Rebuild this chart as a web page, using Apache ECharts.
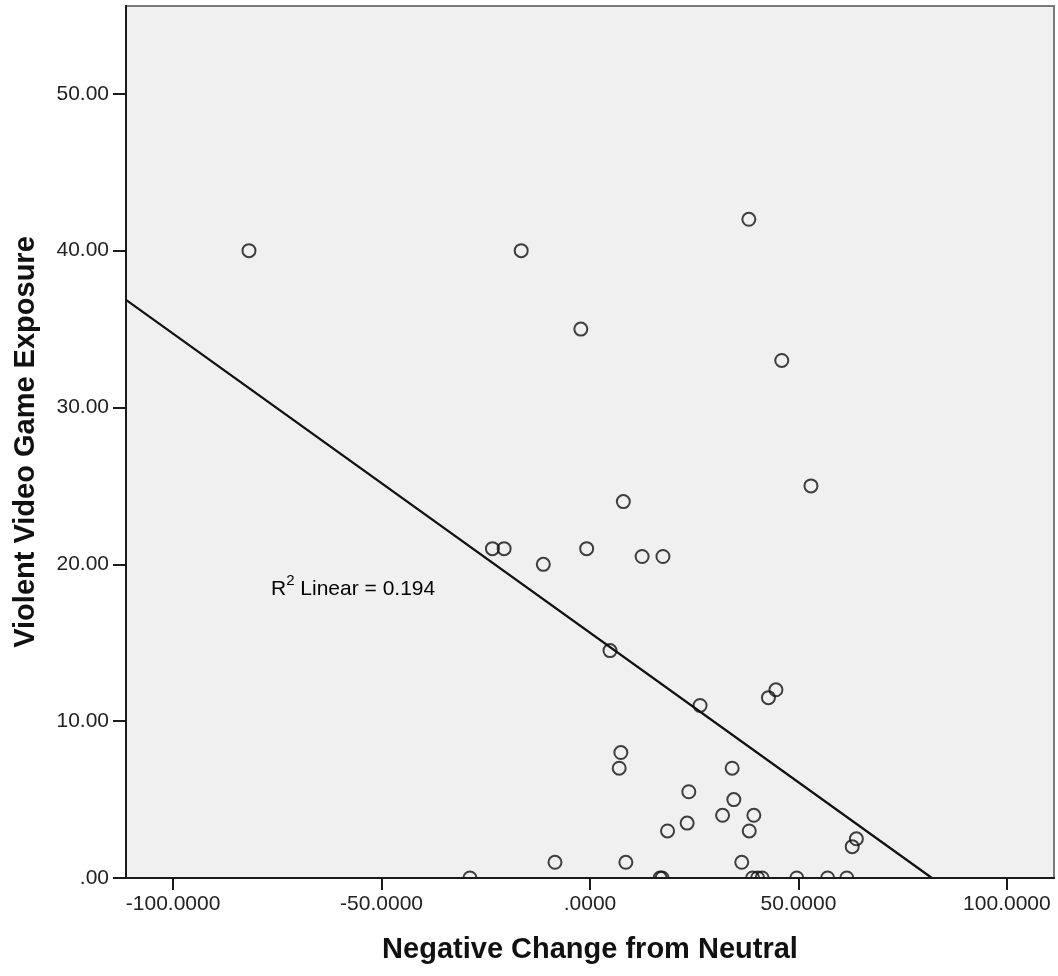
<!DOCTYPE html>
<html>
<head>
<meta charset="utf-8">
<script src="https://cdn.jsdelivr.net/npm/echarts@6/dist/echarts.min.js"></script>
<style>
html,body{margin:0;padding:0;background:#fff;}
#chart{width:1058px;height:976px;}
</style>
</head>
<body>
<div id="chart"></div>
<script>
// ---- data ----
const negChange = [-81.8, -16.5, 38.1, -2.2, 46.0, 53.0, 8.0, -23.4, -20.6, -0.8,
  -11.2, 12.5, 17.5, 4.8, 26.4, 44.6, 42.8, 7.4, 7.0, 34.1,
  23.7, 34.5, 31.8, 39.3, 23.3, 18.6, 38.2, 63.9, 62.9, -8.4,
  8.6, 36.4, -28.8, 16.8, 17.3, 39.0, 40.2, 41.3, 49.6, 57.0, 61.6];
const violentExposure = [40, 40, 42, 35, 33, 25, 24, 21, 21, 21,
  20, 20.5, 20.5, 14.5, 11, 12, 11.5, 8, 7, 7,
  5.5, 5, 4, 4, 3.5, 3, 3, 2.5, 2, 1,
  1, 1, 0, 0, 0, 0, 0, 0, 0, 0, 0];
const fitIntercept = 15.64;
const fitSlope = -0.1907;
const rSquaredText = 'Linear = 0.194';
const xTickValues = [-100, -50, 0, 50, 100];
const xTickLabels = ['-100.0000', '-50.0000', '.0000', '50.0000', '100.0000'];
const yTickValues = [0, 10, 20, 30, 40, 50];
const yTickLabels = ['.00', '10.00', '20.00', '30.00', '40.00', '50.00'];
const xMin = -111.3, xMax = 111.3, yMin = 0, yMax = 55.6;
const xTitle = 'Negative Change from Neutral';
const yTitle = 'Violent Video Game Exposure';

// ---- build ----
const points = negChange.map((x, i) => [x, violentExposure[i]]);
const fitLine = [[xMin, fitIntercept + fitSlope * xMin], [-fitIntercept / fitSlope, 0]];

const chart = echarts.init(document.getElementById('chart'), null, {renderer: 'canvas'});
const font = '"Liberation Sans", Arial, sans-serif';
chart.setOption({
  animation: false,
  backgroundColor: '#ffffff',
  grid: {
    left: 126, right: 4, top: 6, bottom: 98,
    containLabel: false, outerBoundsMode: 'none',
    show: true, backgroundColor: '#f0f0f0', borderColor: '#7a7a7a', borderWidth: 2
  },
  xAxis: {
    type: 'value', min: xMin, max: xMax, z: 10,
    name: xTitle, nameLocation: 'middle', nameGap: 57,
    nameTextStyle: {fontFamily: font, fontWeight: 'bold', fontSize: 29, color: '#111'},
    axisLine: {show: true, onZero: false, lineStyle: {color: '#1a1a1a', width: 2}},
    axisTick: {show: true, length: 12, customValues: xTickValues, lineStyle: {color: '#1a1a1a', width: 2}},
    axisLabel: {
      customValues: xTickValues, margin: 16,
      fontFamily: font, fontSize: 21, color: '#222',
      formatter: v => xTickLabels[xTickValues.indexOf(v)] ?? ''
    },
    splitLine: {show: false}
  },
  yAxis: {
    type: 'value', min: yMin, max: yMax, z: 10,
    name: yTitle, nameLocation: 'middle', nameGap: 86,
    nameTextStyle: {fontFamily: font, fontWeight: 'bold', fontSize: 29, color: '#111'},
    axisLine: {show: true, onZero: false, lineStyle: {color: '#1a1a1a', width: 2}},
    axisTick: {show: true, length: 13, customValues: yTickValues, lineStyle: {color: '#1a1a1a', width: 2}},
    axisLabel: {
      customValues: yTickValues, margin: 17,
      fontFamily: font, fontSize: 21, color: '#222',
      formatter: v => yTickLabels[yTickValues.indexOf(v)] ?? ''
    },
    splitLine: {show: false}
  },
  graphic: [
    {type: 'rect', z: 5, shape: {x: 0, y: 879, width: 1058, height: 12}, style: {fill: '#ffffff'}, silent: true},
    {
      type: 'text', z: 6, left: 271, top: 573,
      style: {
        text: '{r|R}{s|2}{r| ' + rSquaredText + '}',
        rich: {
          r: {fontFamily: font, fontSize: 21, color: '#1a1a1a', lineHeight: 27, verticalAlign: 'bottom'},
          s: {fontFamily: font, fontSize: 15, color: '#1a1a1a', lineHeight: 15, verticalAlign: 'top'}
        }
      }
    }
  ],
  series: [
    {
      type: 'line', data: fitLine, symbol: 'none', z: 3, silent: true,
      lineStyle: {color: '#111', width: 2.2}
    },
    {
      type: 'scatter', data: points, symbol: 'circle', symbolSize: 13, z: 2,
      itemStyle: {color: 'rgba(0,0,0,0)', borderColor: '#111', borderWidth: 2}
    }
  ]
});
</script>
</body>
</html>
